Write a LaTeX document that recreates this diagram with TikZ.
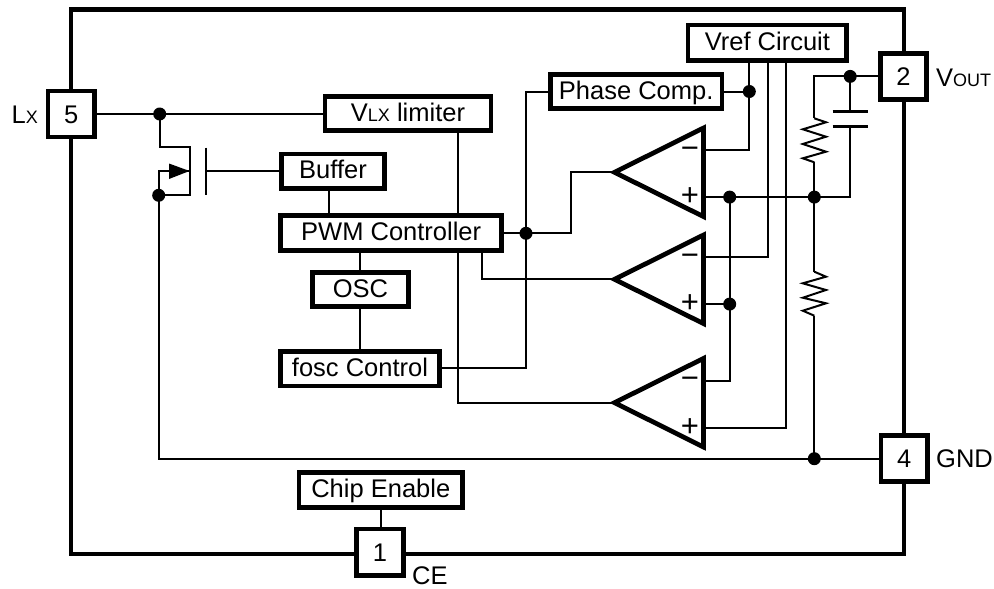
\documentclass[tikz,border=0pt]{standalone}
\usepackage{fontspec}
\setmainfont{Liberation Sans}
\usetikzlibrary{backgrounds}
\newcommand{\bigfont}{\fontsize{25.5}{30}\selectfont}
\newcommand{\smallfont}{\fontsize{18}{22}\selectfont}
\newcommand{\signfont}{\fontsize{31}{36}\selectfont}
\tikzset{
  x=1pt,y=-1pt,
  heavy/.style={line width=4.7pt,miter limit=10},
  thin wire/.style={line width=2pt,line join=miter},
  blockbox/.style={draw,heavy,fill=white,inner sep=0pt,font=\bigfont,text height=18pt,text depth=2.6pt},
  pinbox/.style={draw,heavy,fill=white,inner sep=0pt,font=\bigfont,text height=18pt,text depth=0pt,minimum width=46.5pt,minimum height=46.2pt},
  pinlabel/.style={anchor=base west,inner sep=0pt,font=\bigfont},
  signlabel/.style={inner sep=0pt,font=\signfont},
  junction/.style={circle,fill=black,inner sep=0pt,minimum size=13pt},
  plate/.style={line width=3.2pt},
}
\newcommand{\ampunit}[2]{%
  \coordinate (#1tip) at (614.5,#2);
  \coordinate (#1top) at (703.5,#2-44.3);
  \coordinate (#1bot) at (703.5,#2+44.3);
  \coordinate (#1m) at (703.5,#2-22);
  \coordinate (#1p) at (703.5,#2+24.8);
  \draw[heavy,fill=white] (#1tip) -- (#1top) -- (#1bot) -- cycle;
  \node[signlabel] (#1minus) at (690,#2-19.5) {−};
  \node[signlabel] (#1plus) at (690,#2+24.7) {+};
}
\begin{document}
\begin{tikzpicture}
\useasboundingbox (0,0) rectangle (994,589);
% blocks
\node[blockbox,minimum width=166pt,minimum height=34.3pt] (vlx) at (408,113.5) {V{\smallfont LX} limiter};
\node[blockbox,minimum width=103.6pt,minimum height=34.3pt] (buf) at (333,171.2) {Buffer};
\node[blockbox,minimum width=221pt,minimum height=34.7pt] (pwm) at (391.2,233) {PWM Controller};
\node[blockbox,minimum width=96pt,minimum height=34.3pt] (osc) at (360.4,289.5) {OSC};
\node[blockbox,minimum width=158.7pt,minimum height=34.6pt] (fosc) at (360,368.7) {fosc Control};
\node[blockbox,minimum width=171.6pt,minimum height=34.6pt] (phase) at (636.2,91.5) {Phase Comp.};
\node[blockbox,minimum width=158.6pt,minimum height=35.3pt] (vref) at (767.4,42.7) {Vref Circuit};
\node[blockbox,minimum width=163.6pt,minimum height=35.3pt] (chip) at (380.8,490) {Chip Enable};
% pins
\node[pinbox] (p5) at (71.2,114) {5};
\node[pinbox] (p2) at (903.5,76.4) {2};
\node[pinbox] (p4) at (904.2,458.7) {4};
\node[pinbox] (p1) at (380,552.2) {1};
% pin labels
\node[pinlabel] (lxl) at (11.5,123.3) {L{\smallfont X}};
\node[pinlabel] (voutl) at (936,86) {V{\smallfont OUT}};
\node[pinlabel] (gndl) at (936,467.3) {GND};
\node[pinlabel] (cel) at (412,584.3) {CE};
% comparators
\ampunit{ca}{172.3}
\ampunit{cb}{279.3}
\ampunit{cc}{402.7}
% junctions
\node[junction] (j5) at (159.7,114) {};
\node[junction] (js) at (158.7,195.3) {};
\node[junction] (jp) at (526,233.3) {};
\node[junction] (jv) at (749.3,91.5) {};
\node[junction] (ja) at (729.7,197.1) {};
\node[junction] (jb) at (729.7,304.1) {};
\node[junction] (jr) at (814.3,197.1) {};
\node[junction] (jo) at (850.2,76.4) {};
\node[junction] (jg) at (814.3,458.7) {};
% connector helpers
\coordinate (ftl) at (71,9.5);
\coordinate (fbr) at (904,554);
\coordinate (fa) at (190,147.3);
\coordinate (fb) at (190,195.3);
\coordinate (fm) at (190,171);
\coordinate (gate) at (206.3,171);
\coordinate (gt) at (206.3,147.5);
\coordinate (gb) at (206.3,195);
\coordinate (ctop) at (850.2,111.7);
\coordinate (cbot) at (850.2,126.7);
\coordinate (r1t) at (814.3,118.3);
\coordinate (r1b) at (814.3,162.3);
\coordinate (r2t) at (814.3,271.7);
\coordinate (r2b) at (814.3,315.7);
\begin{scope}[on background layer]
% frame
\draw[heavy] (ftl) rectangle (fbr);
% wires
\begin{scope}[thin wire]
\draw (p5) -- (j5.center) -- (vlx.west |- j5.center);
\draw (j5.center) |- (fa) -- (fb) -- (js.center);
\draw (fm) -| (js.center);
\draw (js.center) -- (js.center |- jg.center) -- (p4.west |- jg.center);
\draw (gt) -- (gb);
\draw (gate) -- (gate -| buf.west);
\draw (buf.south -| 329,0) -- (pwm.north -| 329,0);
\draw (pwm.south -| osc.north) -- (osc.north);
\draw (osc.south) -- (fosc.north -| osc.south);
\draw (vlx.south -| 458.3,0) -- (458.3,402.7) -- (cctip);
\draw (pwm.east |- jp.center) -- (jp.center) -- (570.7,233.3) |- (catip);
\draw (pwm.south -| 482.3,0) |- (cbtip);
\draw (fosc.east |- 0,368.3) -| (jp.center);
\draw (jp.center) |- (phase.west);
\draw (phase.east) -- (jv.center);
\draw (vref.south -| jv.center) -- (jv.center) |- (cam);
\draw (vref.south -| 767.7,0) |- (cbm);
\draw (vref.south -| 786,0) |- (ccp);
\draw (cap) -- (jr.center) -| (cbot);
\draw (ja.center) -- (jb.center) |- (ccm);
\draw (cbp) -- (jb.center);
\draw (jr.center) -- (r1b);
\draw (r1t) |- (jo.center) -- (p2.west |- jo.center);
\draw (jo.center) -- (ctop);
\draw (jr.center) -- (r2t);
\draw (r2b) -- (jg.center);
\draw (chip.south) -- (p1.north -| chip.south);
% resistors
\draw (r1t) -- (826,122.3) -- (802.8,129.3) -- (826,136.7) -- (802.8,144) -- (826,151.7) -- (802.8,158.3) -- (r1b);
\draw (r2t) -- (826,276.7) -- (802.8,283.3) -- (826,290) -- (802.8,297.7) -- (826,303.3) -- (802.8,310.7) -- (r2b);
\end{scope}
\end{scope}
% capacitor plates
\draw[plate] ([xshift=-17.5pt]ctop) -- ([xshift=17.5pt]ctop);
\draw[plate] ([xshift=-17.5pt]cbot) -- ([xshift=17.5pt]cbot);
% transistor arrow
\fill (189.5,171) -- (169,163.5) -- (169,179) -- cycle;
\end{tikzpicture}
\end{document}
